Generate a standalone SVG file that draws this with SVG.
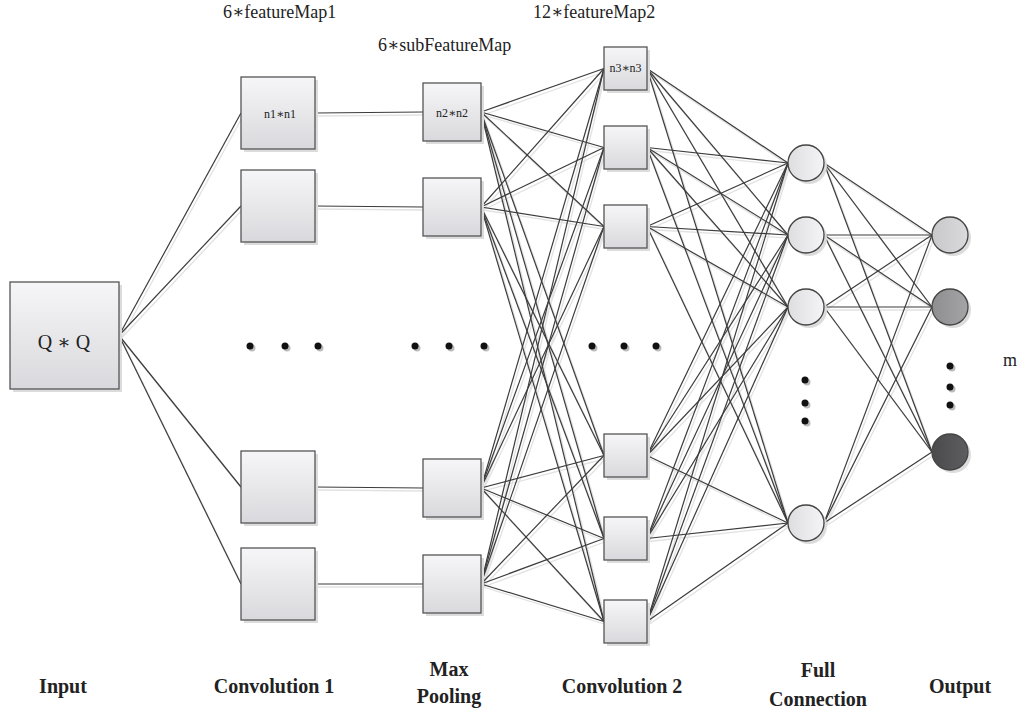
<svg xmlns="http://www.w3.org/2000/svg" xmlns:xlink="http://www.w3.org/1999/xlink" width="1020" height="714" viewBox="0 0 1020 714">
<style>
.lbl{font-family:"Liberation Serif","DejaVu Serif",serif;fill:#222;}
.top{font-size:18px;}
.bot{font-size:20px;font-weight:bold;text-anchor:middle;}
.in{font-size:12px;text-anchor:middle;}
.box{fill:url(#gbox);stroke:#555;stroke-width:1.3;}
.sh{fill:#dcdcdc;}
.fc{fill:url(#gfc);stroke:#444;stroke-width:1.3;}
.dot{fill:#111;}
.dsh{fill:#bbb;}
</style>
<defs>
<linearGradient id="gbox" x1="0" y1="0" x2="0" y2="1">
<stop offset="0" stop-color="#f6f6f8"/><stop offset="1" stop-color="#d9d9dd"/>
</linearGradient>
<linearGradient id="gfc" x1="0" y1="0" x2="1" y2="0">
<stop offset="0" stop-color="#dedee0"/><stop offset="1" stop-color="#f4f4f6"/>
</linearGradient>
<linearGradient id="go1" x1="0" y1="0" x2="1" y2="0">
<stop offset="0" stop-color="#c8c8ca"/><stop offset="1" stop-color="#dadadc"/>
</linearGradient>
<linearGradient id="go2" x1="0" y1="0" x2="1" y2="0">
<stop offset="0" stop-color="#8e8e90"/><stop offset="1" stop-color="#a4a4a6"/>
</linearGradient>
<linearGradient id="go3" x1="0" y1="0" x2="1" y2="0">
<stop offset="0" stop-color="#4a4a4c"/><stop offset="1" stop-color="#5e5e60"/>
</linearGradient>
</defs>
<rect width="1020" height="714" fill="#fff"/>

<use xlink:href="#connlines" href="#connlines" stroke="#e2e2e2" stroke-width="1.3" transform="translate(2,3)"/>

<g id="connectors" stroke="#3c3c3c" stroke-width="1.2" fill="none">
<g id="connlines">
<line x1="119" y1="335.5" x2="241" y2="113"/>
<line x1="119" y1="335.5" x2="241" y2="206"/>
<line x1="119" y1="335.5" x2="241" y2="487"/>
<line x1="119" y1="335.5" x2="241" y2="584"/>
<line x1="315" y1="113" x2="423" y2="112"/>
<line x1="315" y1="206" x2="423" y2="207"/>
<line x1="315" y1="487" x2="423" y2="488"/>
<line x1="315" y1="584" x2="423" y2="584"/>

<line x1="481" y1="112" x2="604" y2="68.5"/>
<line x1="481" y1="112" x2="604" y2="147.5"/>
<line x1="481" y1="112" x2="604" y2="226.5"/>
<line x1="481" y1="112" x2="604" y2="455.5"/>
<line x1="481" y1="112" x2="604" y2="538.5"/>
<line x1="481" y1="112" x2="604" y2="621.5"/>
<line x1="481" y1="207" x2="604" y2="68.5"/>
<line x1="481" y1="207" x2="604" y2="147.5"/>
<line x1="481" y1="207" x2="604" y2="226.5"/>
<line x1="481" y1="207" x2="604" y2="455.5"/>
<line x1="481" y1="207" x2="604" y2="538.5"/>
<line x1="481" y1="207" x2="604" y2="621.5"/>
<line x1="481" y1="488" x2="604" y2="68.5"/>
<line x1="481" y1="488" x2="604" y2="147.5"/>
<line x1="481" y1="488" x2="604" y2="226.5"/>
<line x1="481" y1="488" x2="604" y2="455.5"/>
<line x1="481" y1="488" x2="604" y2="538.5"/>
<line x1="481" y1="488" x2="604" y2="621.5"/>
<line x1="481" y1="584" x2="604" y2="68.5"/>
<line x1="481" y1="584" x2="604" y2="147.5"/>
<line x1="481" y1="584" x2="604" y2="226.5"/>
<line x1="481" y1="584" x2="604" y2="455.5"/>
<line x1="481" y1="584" x2="604" y2="538.5"/>
<line x1="481" y1="584" x2="604" y2="621.5"/>

<line x1="647" y1="68.5" x2="788" y2="163"/>
<line x1="647" y1="68.5" x2="788" y2="235"/>
<line x1="647" y1="68.5" x2="788" y2="307"/>
<line x1="647" y1="68.5" x2="788" y2="523"/>
<line x1="647" y1="147.5" x2="788" y2="163"/>
<line x1="647" y1="147.5" x2="788" y2="235"/>
<line x1="647" y1="147.5" x2="788" y2="307"/>
<line x1="647" y1="147.5" x2="788" y2="523"/>
<line x1="647" y1="226.5" x2="788" y2="163"/>
<line x1="647" y1="226.5" x2="788" y2="235"/>
<line x1="647" y1="226.5" x2="788" y2="307"/>
<line x1="647" y1="226.5" x2="788" y2="523"/>
<line x1="647" y1="455.5" x2="788" y2="163"/>
<line x1="647" y1="455.5" x2="788" y2="235"/>
<line x1="647" y1="455.5" x2="788" y2="307"/>
<line x1="647" y1="455.5" x2="788" y2="523"/>
<line x1="647" y1="538.5" x2="788" y2="163"/>
<line x1="647" y1="538.5" x2="788" y2="235"/>
<line x1="647" y1="538.5" x2="788" y2="307"/>
<line x1="647" y1="538.5" x2="788" y2="523"/>
<line x1="647" y1="621.5" x2="788" y2="163"/>
<line x1="647" y1="621.5" x2="788" y2="235"/>
<line x1="647" y1="621.5" x2="788" y2="307"/>
<line x1="647" y1="621.5" x2="788" y2="523"/>

<line x1="824" y1="163" x2="932" y2="235"/>
<line x1="824" y1="163" x2="932" y2="307"/>
<line x1="824" y1="163" x2="932" y2="452"/>
<line x1="824" y1="235" x2="932" y2="235"/>
<line x1="824" y1="235" x2="932" y2="307"/>
<line x1="824" y1="235" x2="932" y2="452"/>
<line x1="824" y1="307" x2="932" y2="235"/>
<line x1="824" y1="307" x2="932" y2="307"/>
<line x1="824" y1="307" x2="932" y2="452"/>
<line x1="824" y1="523" x2="932" y2="235"/>
<line x1="824" y1="523" x2="932" y2="307"/>
<line x1="824" y1="523" x2="932" y2="452"/>
</g>
</g>

<g id="input">
<rect class="sh" x="13" y="285" width="109" height="107"/>
<rect class="box" x="10" y="282" width="109" height="107"/>
<text class="lbl" x="64" y="349" font-size="20" text-anchor="middle">Q ∗ Q</text>
</g>

<g id="conv1-1"><rect class="sh" x="244" y="80" width="74" height="72"/><rect class="box" x="241" y="77" width="74" height="72"/><text class="lbl in" x="280" y="118">n1∗n1</text></g>
<g id="conv1-2"><rect class="sh" x="244" y="173" width="74" height="72"/><rect class="box" x="241" y="170" width="74" height="72"/></g>
<g id="conv1-3"><rect class="sh" x="244" y="454" width="74" height="72"/><rect class="box" x="241" y="451" width="74" height="72"/></g>
<g id="conv1-4"><rect class="sh" x="244" y="551" width="74" height="72"/><rect class="box" x="241" y="548" width="74" height="72"/></g>

<g id="pool-1"><rect class="sh" x="426" y="86" width="58" height="58"/><rect class="box" x="423" y="83" width="58" height="58"/><text class="lbl in" x="452" y="117">n2∗n2</text></g>
<g id="pool-2"><rect class="sh" x="426" y="181" width="58" height="58"/><rect class="box" x="423" y="178" width="58" height="58"/></g>
<g id="pool-3"><rect class="sh" x="426" y="462" width="58" height="58"/><rect class="box" x="423" y="459" width="58" height="58"/></g>
<g id="pool-4"><rect class="sh" x="426" y="558" width="58" height="58"/><rect class="box" x="423" y="555" width="58" height="58"/></g>

<g id="conv2-1"><rect class="sh" x="607" y="50" width="43" height="43"/><rect class="box" x="604" y="47" width="43" height="43"/><text class="lbl in" x="625.5" y="72">n3∗n3</text></g>
<g id="conv2-2"><rect class="sh" x="607" y="129" width="43" height="43"/><rect class="box" x="604" y="126" width="43" height="43"/></g>
<g id="conv2-3"><rect class="sh" x="607" y="208" width="43" height="43"/><rect class="box" x="604" y="205" width="43" height="43"/></g>
<g id="conv2-4"><rect class="sh" x="607" y="437" width="43" height="43"/><rect class="box" x="604" y="434" width="43" height="43"/></g>
<g id="conv2-5"><rect class="sh" x="607" y="520" width="43" height="43"/><rect class="box" x="604" y="517" width="43" height="43"/></g>
<g id="conv2-6"><rect class="sh" x="607" y="603" width="43" height="43"/><rect class="box" x="604" y="600" width="43" height="43"/></g>

<g id="fc-1"><circle class="sh" cx="809" cy="166" r="18"/><circle class="fc" cx="806" cy="163" r="18"/></g>
<g id="fc-2"><circle class="sh" cx="809" cy="238" r="18"/><circle class="fc" cx="806" cy="235" r="18"/></g>
<g id="fc-3"><circle class="sh" cx="809" cy="310" r="18"/><circle class="fc" cx="806" cy="307" r="18"/></g>
<g id="fc-4"><circle class="sh" cx="809" cy="526" r="18"/><circle class="fc" cx="806" cy="523" r="18"/></g>

<g id="out-1"><circle class="sh" cx="953" cy="238" r="18"/><circle cx="950" cy="235" r="18" fill="url(#go1)" stroke="#444" stroke-width="1.3"/></g>
<g id="out-2"><circle class="sh" cx="953" cy="310" r="18"/><circle cx="950" cy="307" r="18" fill="url(#go2)" stroke="#444" stroke-width="1.3"/></g>
<g id="out-3"><circle class="sh" cx="953" cy="455" r="18"/><circle cx="950" cy="452" r="18" fill="url(#go3)" stroke="#444" stroke-width="1.3"/></g>

<g id="dots">
<circle class="dsh" cx="252" cy="348" r="3.5"/><circle class="dot" cx="250" cy="346" r="3.5"/>
<circle class="dsh" cx="287" cy="348" r="3.5"/><circle class="dot" cx="285" cy="346" r="3.5"/>
<circle class="dsh" cx="320" cy="348" r="3.5"/><circle class="dot" cx="318" cy="346" r="3.5"/>
<circle class="dsh" cx="417" cy="348" r="3.5"/><circle class="dot" cx="415" cy="346" r="3.5"/>
<circle class="dsh" cx="451" cy="348" r="3.5"/><circle class="dot" cx="449" cy="346" r="3.5"/>
<circle class="dsh" cx="486" cy="348" r="3.5"/><circle class="dot" cx="484" cy="346" r="3.5"/>
<circle class="dsh" cx="594" cy="348" r="3.5"/><circle class="dot" cx="592" cy="346" r="3.5"/>
<circle class="dsh" cx="626" cy="348" r="3.5"/><circle class="dot" cx="624" cy="346" r="3.5"/>
<circle class="dsh" cx="658" cy="348" r="3.5"/><circle class="dot" cx="656" cy="346" r="3.5"/>
<circle class="dsh" cx="807" cy="382" r="3.5"/><circle class="dot" cx="805" cy="380" r="3.5"/>
<circle class="dsh" cx="807" cy="405" r="3.5"/><circle class="dot" cx="805" cy="403" r="3.5"/>
<circle class="dsh" cx="807" cy="423" r="3.5"/><circle class="dot" cx="805" cy="421" r="3.5"/>
<circle class="dsh" cx="952" cy="368" r="3.5"/><circle class="dot" cx="950" cy="366" r="3.5"/>
<circle class="dsh" cx="952" cy="389" r="3.5"/><circle class="dot" cx="950" cy="387" r="3.5"/>
<circle class="dsh" cx="952" cy="407" r="3.5"/><circle class="dot" cx="950" cy="405" r="3.5"/>
</g>

<g id="labels">
<text class="lbl top" x="223" y="18">6∗featureMap1</text>
<text class="lbl top" x="378" y="51">6∗subFeatureMap</text>
<text class="lbl top" x="533" y="18">12∗featureMap2</text>
<text class="lbl" x="1003" y="366" font-size="18">m</text>
<text class="lbl bot" x="63" y="693">Input</text>
<text class="lbl bot" x="274" y="693">Convolution 1</text>
<text class="lbl bot" x="449" y="676">Max</text>
<text class="lbl bot" x="449" y="703">Pooling</text>
<text class="lbl bot" x="622" y="693">Convolution 2</text>
<text class="lbl bot" x="818" y="677">Full</text>
<text class="lbl bot" x="818" y="706">Connection</text>
<text class="lbl bot" x="960" y="693">Output</text>
</g>
</svg>
